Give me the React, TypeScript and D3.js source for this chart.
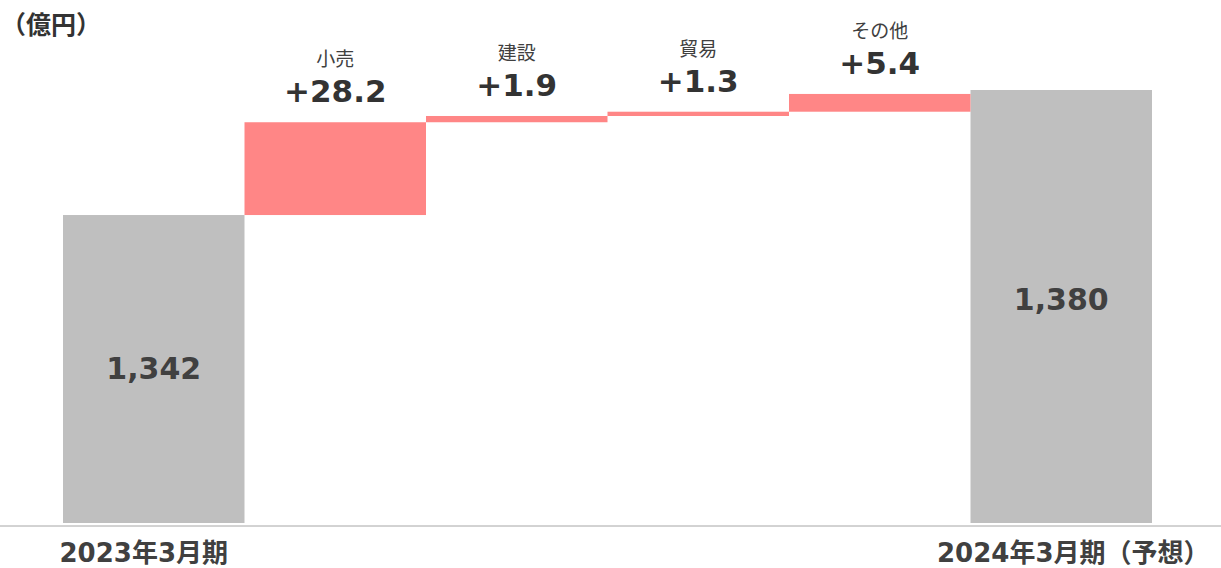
import React from "react";
import * as d3 from "d3";

const categories = ["2023年3月期", "小売", "建設", "貿易", "その他", "2024年3月期（予想）"];
const startValue = 1342;
const endValue = 1380;
const deltas = [28.2, 1.9, 1.3, 5.4];
const deltaLabels = ["+28.2", "+1.9", "+1.3", "+5.4"];
const totalLabels = ["1,342", "1,380"];
const unitLabel = "（億円）";

const W = 1221;
const H = 568;
const NUM_FONT = "'DejaVu Sans', 'Noto Sans CJK JP', sans-serif";
const CJK_FONT = "'Noto Sans CJK JP', sans-serif";

export default function App() {
  const x = d3.scaleBand<string>().domain(categories).range([63, 1152]).padding(0);
  const y = d3.scaleLinear().domain([1248.4, endValue]).range([523, 90]);

  let cum = startValue;
  const steps = deltas.map((d, i) => {
    const s = { cat: categories[i + 1], from: cum, to: cum + d, label: deltaLabels[i] };
    cum += d;
    return s;
  });
  const totals = [
    { cat: categories[0], value: startValue, label: totalLabels[0] },
    { cat: categories[5], value: endValue, label: totalLabels[1] },
  ];
  const y0 = y.range()[0];
  const bw = x.bandwidth();

  return (
    <svg
      width={W}
      height={H}
      style={{ position: "absolute", left: 0, top: 0, display: "block", background: "#fff" }}
    >
      <text x={1} y={34} fontFamily={CJK_FONT} fontWeight={700} fontSize={25} fill="#333">
        {unitLabel}
      </text>

      {totals.map((t, i) => {
        const top = y(t.value);
        const mid = (top + y0) / 2;
        return (
          <g key={t.cat}>
            <rect x={x(t.cat)} y={top} width={bw} height={y0 - top} fill="#BFBFBF" />
            <text
              x={(x(t.cat) as number) + bw / 2}
              y={mid + (i === 0 ? 10 : 3)}
              textAnchor="middle"
              fontFamily={NUM_FONT}
              fontWeight={700}
              fontSize={30}
              fill="#404040"
            >
              {t.label}
            </text>
          </g>
        );
      })}

      {steps.map((s) => {
        const top = y(s.to);
        const bottom = y(s.from);
        const cx = (x(s.cat) as number) + bw / 2;
        return (
          <g key={s.cat}>
            <rect x={x(s.cat)} y={top} width={bw} height={bottom - top} fill="#FF8686" />
            <text
              x={cx}
              y={top - 20}
              textAnchor="middle"
              fontFamily={NUM_FONT}
              fontWeight={700}
              fontSize={31}
              fill="#333"
            >
              {s.label}
            </text>
            <text
              x={cx}
              y={top - 56}
              textAnchor="middle"
              fontFamily={CJK_FONT}
              fontWeight={400}
              fontSize={19}
              fill="#404040"
            >
              {s.cat}
            </text>
          </g>
        );
      })}

      <line x1={0} x2={W} y1={y0 + 3} y2={y0 + 3} stroke="#A6A6A6" strokeWidth={1} />

      {[categories[0], categories[5]].map((c, i) => (
        <text
          key={c}
          x={(x(c) as number) + bw / 2 + (i === 0 ? -10 : 12)}
          y={562}
          textAnchor="middle"
          fontFamily={NUM_FONT}
          fontWeight={700}
          fontSize={26}
          fill="#404040"
        >
          {c}
        </text>
      ))}
    </svg>
  );
}
